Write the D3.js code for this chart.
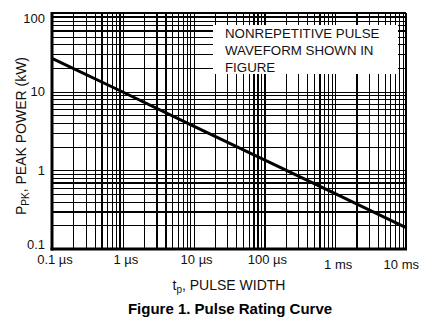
<!DOCTYPE html>
<html>
<head>
<meta charset="utf-8">
<script src="https://cdn.jsdelivr.net/npm/d3@7"></script>
<style>
  html, body { margin: 0; padding: 0; background: #fff; }
  svg { display: block; font-family: "Liberation Sans", Arial, Helvetica, sans-serif; }
</style>
</head>
<body>
<svg id="chart" width="433" height="322"></svg>
<script>
// Pulse rating curve: peak pulse power vs. pulse width (log-log)
const pulseWidthUs = [0.1, 1, 10, 100, 1000, 10000];
const peakPowerKw = [26.5, 9.9, 3.65, 1.36, 0.505, 0.187];

const xTickValues = [0.1, 1, 10, 100, 1000, 10000];
const xTickLabels = ["0.1 µs", "1 µs", "10 µs", "100 µs", "1 ms", "10 ms"];
const yTickValues = [0.1, 1, 10, 100];
const yTickLabels = ["0.1", "1", "10", "100"];
const noteLines = ["NONREPETITIVE PULSE", "WAVEFORM SHOWN IN", "FIGURE"];

const svg = d3.select("#chart");
const plot = { left: 52, right: 406, top: 13, bottom: 249 };

const x = d3.scaleLog().domain([0.1, 10000]).range([plot.left, plot.right]);
const y = d3.scaleLog().domain([0.1, 100]).range([plot.bottom, plot.top]);

// every 1..9 × decade value inside a log domain
function gridValues(scale) {
  const [a, b] = scale.domain();
  const out = [];
  for (let e = Math.round(Math.log10(a)); e < Math.round(Math.log10(b)); e++) {
    for (let k = 1; k <= 9; k++) out.push(k * Math.pow(10, e));
  }
  out.push(b);
  return out;
}

// grid lines drawn with d3 axes (full-length ticks, no labels)
const gx = svg.append("g")
  .attr("transform", `translate(0,${plot.bottom})`)
  .call(d3.axisBottom(x).tickValues(gridValues(x)).tickFormat("")
        .tickSize(-(plot.bottom - plot.top)).tickSizeOuter(0));
const gy = svg.append("g")
  .attr("transform", `translate(${plot.left},0)`)
  .call(d3.axisLeft(y).tickValues(gridValues(y)).tickFormat("")
        .tickSize(-(plot.right - plot.left)).tickSizeOuter(0));
[gx, gy].forEach(g => {
  g.select(".domain").remove();
  g.selectAll(".tick line").attr("stroke", "#000").attr("stroke-width", 1.2)
    .attr("shape-rendering", "crispEdges");
});

// frame: heavier left and bottom edges
svg.append("line").attr("x1", plot.left).attr("x2", plot.right)
  .attr("y1", plot.top).attr("y2", plot.top)
  .attr("stroke", "#000").attr("stroke-width", 2);
svg.append("line").attr("x1", plot.right).attr("x2", plot.right)
  .attr("y1", plot.top).attr("y2", plot.bottom)
  .attr("stroke", "#000").attr("stroke-width", 2);
svg.append("line").attr("x1", plot.left).attr("x2", plot.left)
  .attr("y1", plot.top - 1).attr("y2", plot.bottom + 1.5)
  .attr("stroke", "#000").attr("stroke-width", 3);
svg.append("line").attr("x1", plot.left - 1.5).attr("x2", plot.right + 1)
  .attr("y1", plot.bottom).attr("y2", plot.bottom)
  .attr("stroke", "#000").attr("stroke-width", 3);

// the rating curve
const line = d3.line().x((d, i) => x(pulseWidthUs[i])).y(d => y(d));
svg.append("path").datum(peakPowerKw)
  .attr("d", line)
  .attr("fill", "none").attr("stroke", "#000").attr("stroke-width", 3);

// note box over the upper-right grid
const note = svg.append("g");
note.append("rect").attr("x", 213).attr("y", 25).attr("width", 185).attr("height", 49)
  .attr("fill", "#fff");
note.selectAll("text").data(noteLines).join("text")
  .attr("x", 225).attr("y", (d, i) => 38.3 + i * 16.7)
  .attr("font-size", 13.3).attr("fill", "#111").text(d => d);

// x tick labels
svg.append("g").selectAll("text").data(xTickValues).join("text")
  .attr("font-size", 13).attr("fill", "#111")
  .attr("text-anchor", "middle")
  .text((d, i) => xTickLabels[i])
  .each(function (d, i) {
    const t = d3.select(this);
    const w = this.getComputedTextLength();
    let cx = x(d) + 3;
    cx = Math.min(cx, 419 - w / 2);
    const base = d >= 1000 ? 268.5 : 264;
    t.attr("x", cx).attr("y", base);
  });

// y tick labels
svg.append("g").selectAll("text").data(yTickValues).join("text")
  .attr("font-size", 13).attr("fill", "#111")
  .attr("text-anchor", "end")
  .attr("x", 45)
  .attr("y", d => Math.max(18, Math.min(244, y(d))) + 4.7)
  .text((d, i) => yTickLabels[i]);

// axis titles
const yTitle = svg.append("text")
  .attr("transform", "translate(26,136) rotate(-90)")
  .attr("text-anchor", "middle").attr("font-size", 14).attr("fill", "#111");
yTitle.append("tspan").text("P");
yTitle.append("tspan").attr("font-size", 10).attr("dy", 3).text("PK");
yTitle.append("tspan").attr("dy", -3).text(", PEAK POWER (kW)");

const xTitle = svg.append("text")
  .attr("x", 229).attr("y", 290)
  .attr("text-anchor", "middle").attr("font-size", 14).attr("fill", "#111");
xTitle.append("tspan").text("t");
xTitle.append("tspan").attr("font-size", 10).attr("dy", 3).text("p");
xTitle.append("tspan").attr("dy", -3).text(", PULSE WIDTH");

svg.append("text")
  .attr("x", 230).attr("y", 314)
  .attr("text-anchor", "middle").attr("font-size", 15).attr("font-weight", "bold")
  .attr("fill", "#000")
  .text("Figure 1. Pulse Rating Curve");
</script>
</body>
</html>
